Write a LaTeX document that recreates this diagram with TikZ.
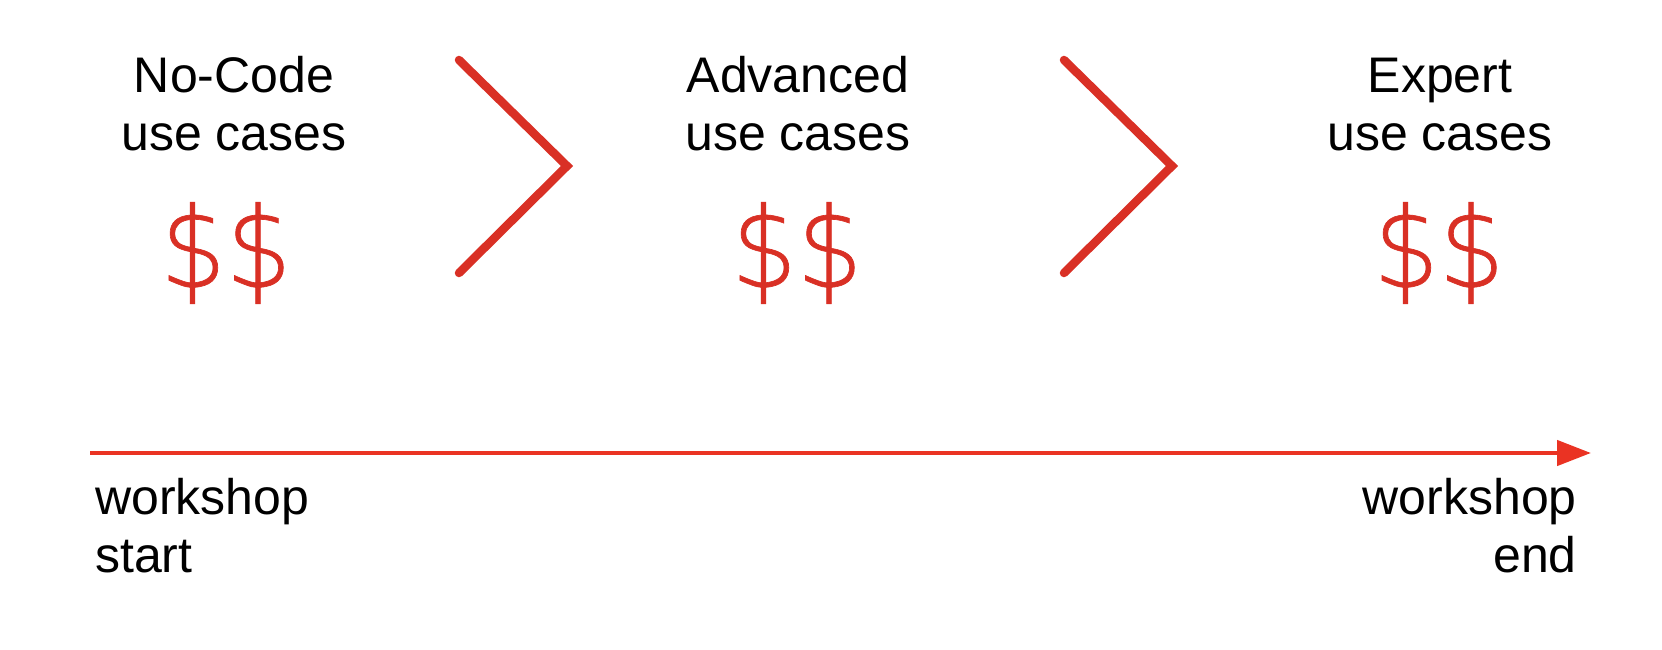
\documentclass[tikz,border=0pt]{standalone}
\usepackage{fontspec}
\setmainfont{Liberation Sans}
\IfFontExistsTF{DejaVu Sans ExtraLight}{\newfontfamily\thinfont[FakeStretch=0.92,FakeBold=0.6]{DejaVu Sans ExtraLight}}{%
 \IfFontExistsTF{Lato Light}{\newfontfamily\thinfont{Lato Light}}{%
  \newfontfamily\thinfont{Liberation Sans}}}
\usetikzlibrary{arrows.meta}
\definecolor{chevred}{HTML}{D93025}
\definecolor{arrred}{HTML}{EA3323}
\begin{document}
\begin{tikzpicture}[x=1pt,y=-1pt,
  title/.style={font=\fontsize{50}{58}\selectfont, align=center, anchor=base, inner sep=0pt},
  money/.style={font=\thinfont\fontsize{112}{112}\selectfont, text=chevred, inner sep=0pt, anchor=center},
  chevron/.style={draw=chevred, line width=8.5pt, line cap=round, line join=miter},
  timeline/.style={draw=arrred, line width=4.5pt, -{Triangle[length=34pt,width=25pt]}},
  edge/.style={font=\fontsize{50}{58}\selectfont, inner sep=0pt}
]
\useasboundingbox (0,0) rectangle (1662,650);
\node[title] (t1) at (234,150) {No-Code\\use cases};
\node[title] (t2) at (798,150) {Advanced\\use cases};
\node[title] (t3) at (1440,150) {Expert\\use cases};
\node[money] (m1) at (226,253) {\$\$};
\node[money] (m2) at (797,253) {\$\$};
\node[money] (m3) at (1439,253) {\$\$};
\coordinate (c1a) at (459,60); \coordinate (c1b) at (567,166); \coordinate (c1c) at (459,273);
\coordinate (c2a) at (1064,60); \coordinate (c2b) at (1172,166); \coordinate (c2c) at (1064,273);
\draw[chevron] (c1a) -- (c1b) -- (c1c);
\draw[chevron] (c2a) -- (c2b) -- (c2c);
\coordinate (ls) at (90,453); \coordinate (le) at (1591,453);
\draw[timeline] (ls) -- (le);
\node[edge, anchor=base west, align=left] (ws) at (95,572) {workshop\\start};
\node[edge, anchor=base east, align=right] (we) at (1577,572) {workshop\\end};
\end{tikzpicture}
\end{document}
